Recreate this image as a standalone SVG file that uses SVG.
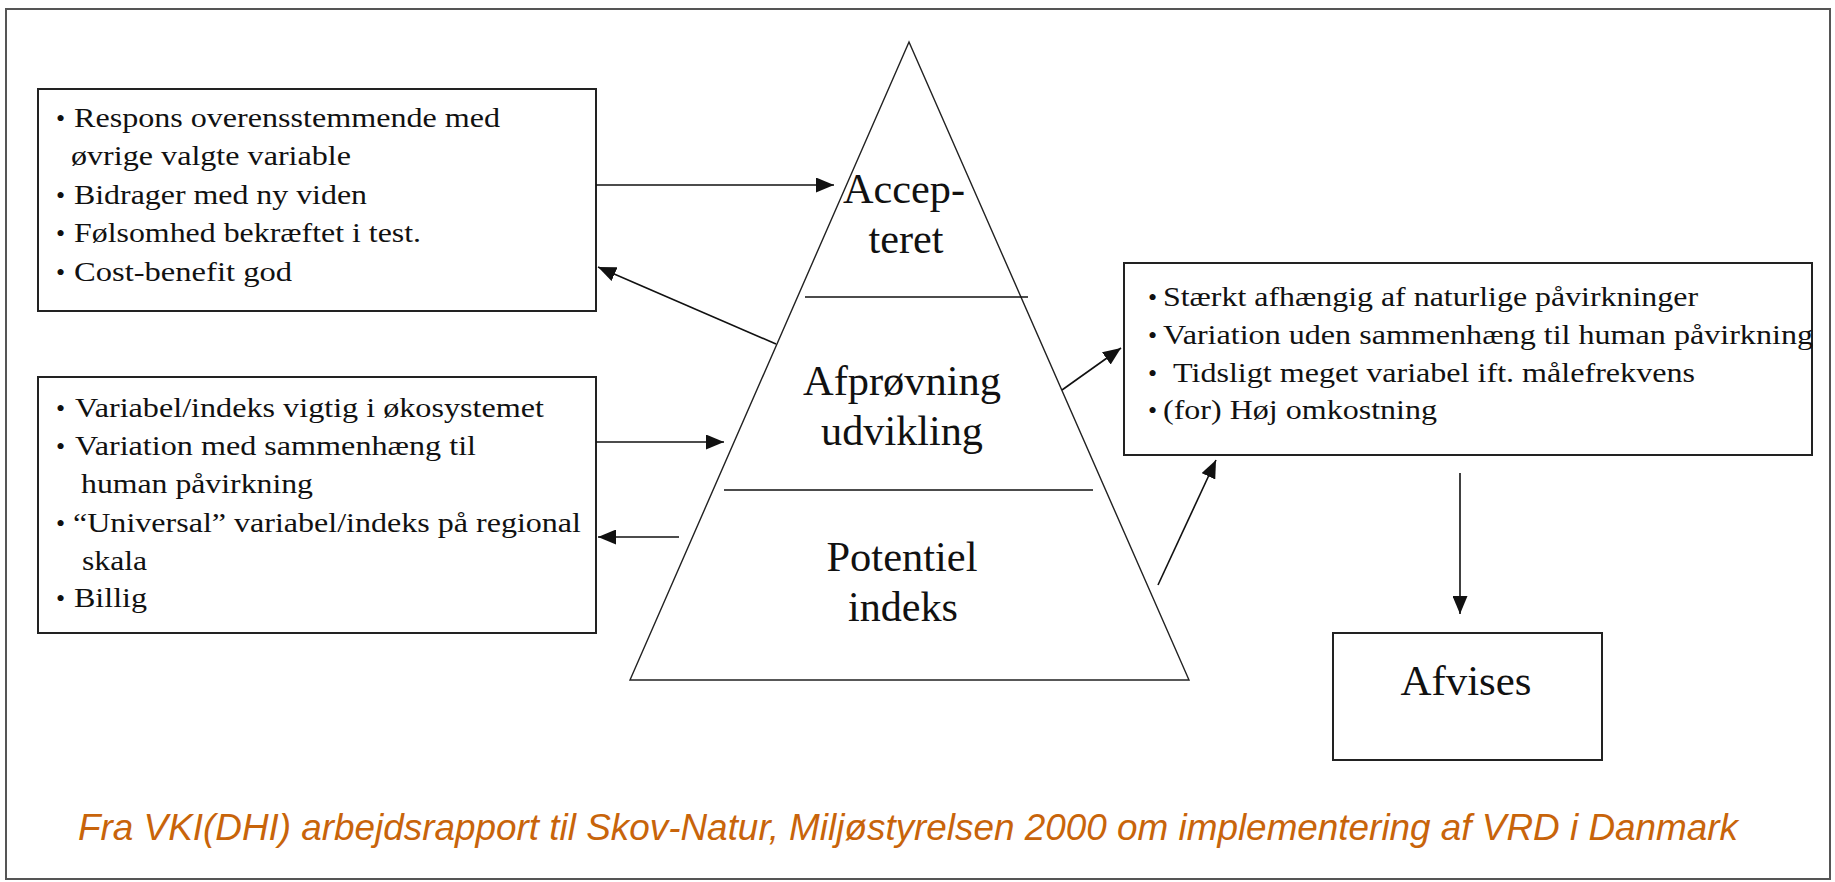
<svg xmlns="http://www.w3.org/2000/svg" width="1835" height="882" viewBox="0 0 1835 882">
<style>
.box{fill:#fff;stroke:#222;stroke-width:2}
.ln{stroke:#111;stroke-width:1.6;fill:none}
.tri{fill:#fff;stroke:#222;stroke-width:1.4}
.t{font-family:"Liberation Serif","Times New Roman",serif;font-size:28px;fill:#111}
.b{font-family:"Liberation Serif","Times New Roman",serif;font-size:26px;fill:#111}
.big{font-family:"Liberation Serif","Times New Roman",serif;font-size:42px;fill:#111;text-anchor:middle}
.cap{font-family:"Liberation Sans",Arial,sans-serif;font-style:italic;font-size:37px;fill:#C8640A}
</style>
<defs>
<marker id="ah" markerUnits="userSpaceOnUse" markerWidth="18" markerHeight="15" refX="18" refY="7.5" orient="auto">
<path d="M0,0 L18,7.5 L0,15 z" fill="#111"/>
</marker>
</defs>
<rect x="0" y="0" width="1835" height="882" fill="#fff"/>
<rect id="frame" x="6" y="9" width="1824" height="870" fill="none" stroke="#555" stroke-width="2"/>

<g id="pyramid">
<polygon class="tri" points="909,42 630,680 1189,680"/>
<line class="ln" x1="805" y1="297" x2="1028" y2="297"/>
<line class="ln" x1="724" y1="490" x2="1093" y2="490"/>
<text class="big" x="904" y="203" textLength="122" lengthAdjust="spacingAndGlyphs">Accep-</text>
<text class="big" x="906" y="253" textLength="75" lengthAdjust="spacingAndGlyphs">teret</text>
<text class="big" x="902" y="395" textLength="198" lengthAdjust="spacingAndGlyphs">Afprøvning</text>
<text class="big" x="902" y="445" textLength="162" lengthAdjust="spacingAndGlyphs">udvikling</text>
<text class="big" x="902" y="571" textLength="151" lengthAdjust="spacingAndGlyphs">Potentiel</text>
<text class="big" x="903" y="621" textLength="110" lengthAdjust="spacingAndGlyphs">indeks</text>
</g>

<g id="box-accept">
<rect class="box" x="38" y="89" width="558" height="222"/>
<text class="b" x="56" y="127">•</text>
<text class="t" x="74" y="127" textLength="426" lengthAdjust="spacingAndGlyphs">Respons overensstemmende med</text>
<text class="t" x="71" y="165" textLength="280" lengthAdjust="spacingAndGlyphs">øvrige valgte variable</text>
<text class="b" x="56" y="204">•</text>
<text class="t" x="74" y="204" textLength="293" lengthAdjust="spacingAndGlyphs">Bidrager med ny viden</text>
<text class="b" x="56" y="242">•</text>
<text class="t" x="74" y="242" textLength="347" lengthAdjust="spacingAndGlyphs">Følsomhed bekræftet i test.</text>
<text class="b" x="56" y="281">•</text>
<text class="t" x="74" y="281" textLength="218" lengthAdjust="spacingAndGlyphs">Cost-benefit god</text>
</g>

<g id="box-potential">
<rect class="box" x="38" y="377" width="558" height="256"/>
<text class="b" x="56" y="417">•</text>
<text class="t" x="75" y="417" textLength="469" lengthAdjust="spacingAndGlyphs">Variabel/indeks vigtig i økosystemet</text>
<text class="b" x="56" y="455">•</text>
<text class="t" x="75" y="455" textLength="401" lengthAdjust="spacingAndGlyphs">Variation med sammenhæng til</text>
<text class="t" x="81" y="493" textLength="232" lengthAdjust="spacingAndGlyphs">human påvirkning</text>
<text class="b" x="56" y="532">•</text>
<text class="t" x="73" y="532" textLength="508" lengthAdjust="spacingAndGlyphs">“Universal” variabel/indeks på regional</text>
<text class="t" x="82" y="570" textLength="65" lengthAdjust="spacingAndGlyphs">skala</text>
<text class="b" x="56" y="607">•</text>
<text class="t" x="74" y="607" textLength="73" lengthAdjust="spacingAndGlyphs">Billig</text>
</g>

<g id="box-reject-criteria">
<rect class="box" x="1124" y="263" width="688" height="192"/>
<text class="b" x="1148" y="306">•</text>
<text class="t" x="1163" y="306" textLength="535" lengthAdjust="spacingAndGlyphs">Stærkt afhængig af naturlige påvirkninger</text>
<text class="b" x="1148" y="344">•</text>
<text class="t" x="1163" y="344" textLength="650" lengthAdjust="spacingAndGlyphs">Variation uden sammenhæng til  human påvirkning</text>
<text class="b" x="1148" y="382">•</text>
<text class="t" x="1173" y="382" textLength="522" lengthAdjust="spacingAndGlyphs">Tidsligt meget variabel ift. målefrekvens</text>
<text class="b" x="1148" y="419">•</text>
<text class="t" x="1163" y="419" textLength="274" lengthAdjust="spacingAndGlyphs">(for) Høj omkostning</text>
</g>

<g id="box-afvises">
<rect class="box" x="1333" y="633" width="269" height="127"/>
<text class="big" x="1466" y="695" font-size="41" textLength="131" lengthAdjust="spacingAndGlyphs">Afvises</text>
</g>

<g id="connectors">
<line class="ln" x1="596" y1="185" x2="834" y2="185" marker-end="url(#ah)"/>
<line class="ln" x1="776" y1="344" x2="598" y2="267" marker-end="url(#ah)"/>
<line class="ln" x1="596" y1="442" x2="724" y2="442" marker-end="url(#ah)"/>
<line class="ln" x1="679" y1="537" x2="598" y2="537" marker-end="url(#ah)"/>
<line class="ln" x1="1062" y1="390" x2="1121" y2="348" marker-end="url(#ah)"/>
<line class="ln" x1="1158" y1="585" x2="1216" y2="460" marker-end="url(#ah)"/>
<line class="ln" x1="1460" y1="473" x2="1460" y2="614" marker-end="url(#ah)"/>
</g>

<text class="cap" x="78" y="840" textLength="1660" lengthAdjust="spacingAndGlyphs">Fra VKI(DHI) arbejdsrapport til Skov-Natur, Miljøstyrelsen 2000 om implementering af VRD i Danmark</text>
</svg>
